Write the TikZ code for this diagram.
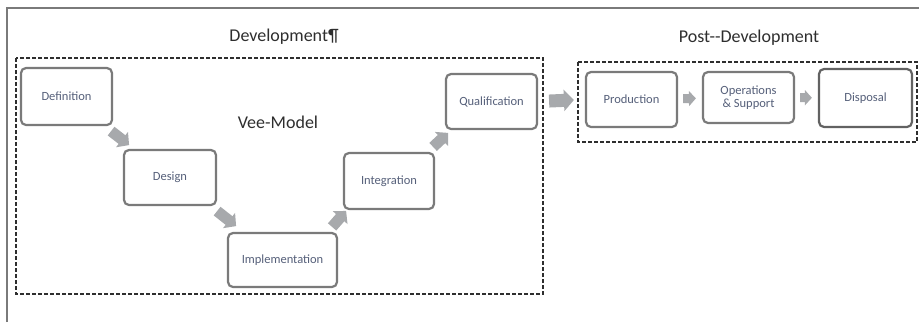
\documentclass[tikz,border=0pt]{standalone}
\usepackage{fontspec}
\setmainfont{Carlito}
\usetikzlibrary{arrows.meta}
\definecolor{boxgray}{HTML}{7A7A7A}
\definecolor{txtblue}{HTML}{56607A}
\definecolor{arrgray}{HTML}{A7A9AC}
\definecolor{dashgray}{HTML}{2E2E2E}
\begin{document}
\begin{tikzpicture}[x=1pt,y=-1pt,
  stage/.style={draw=boxgray,line width=2.2pt,rounded corners=5pt,fill=white,
    text=txtblue,font=\fontsize{12.5}{13}\selectfont,align=center,inner sep=0pt},
  group/.style={draw=dashgray,line width=2.6pt,dash pattern=on 4pt off 2pt},
  head/.style={text=dashgray,font=\fontsize{18}{20}\selectfont},
  blk/.style={draw=arrgray,line width=11pt,-{Triangle[length=9pt,width=19pt]}},
  blkbig/.style={draw=arrgray,line width=13pt,-{Triangle[length=10pt,width=21pt]},shorten <=11pt,shorten >=11pt},
  blksmall/.style={draw=arrgray,line width=9pt,-{Triangle[length=7pt,width=15pt]},shorten <=5pt,shorten >=6pt}]
\useasboundingbox (0,0) rectangle (919,322);
% frame
\draw[boxgray,line width=2pt] (7,322) -- (7,8) -- (919,8);
% groups
\draw[group] (16,58) rectangle (543,294);
\draw[group] (578,62) rectangle (917,142);
\node[head] (dev) at (284,37) {Development¶};
\node[head] (post) at (749,38) {Post-{}-Development};
\node[head] (vee) at (278,122) {Vee-Model};
% vee stages
\node[stage,minimum width=91pt,minimum height=57pt] (def) at (66.5,96.5) {Definition};
\node[stage,minimum width=92pt,minimum height=55pt] (des) at (170,177.5) {Design};
\node[stage,minimum width=109pt,minimum height=54pt] (imp) at (282.5,260) {Implementation};
\node[stage,minimum width=90pt,minimum height=56pt] (int) at (389,181) {Integration};
\node[stage,minimum width=91pt,minimum height=55pt] (qua) at (491.5,101.5) {Qualification};
% post stages
\node[stage,minimum width=91pt,minimum height=55pt] (pro) at (631.5,99.5) {Production};
\node[stage,minimum width=91pt,minimum height=51pt] (ops) at (748.5,97.5) {Operations\\\& Support};
\node[stage,minimum width=93pt,minimum height=58pt,draw=boxgray!80!black] (dis) at (865.5,98) {Disposal};
% arrows
\draw[blk] (def.south east) ++(-2,5) -- ++(18,14);
\draw[blk] (des.south east) ++(0,5) -- ++(19,15);
\draw[blk] (imp.north east) ++(-6,-5) -- ++(14,-16);
\draw[blk] (int.north east) ++(-2,-5) -- ++(15,-14);
\draw[blkbig] (qua.east) -- (pro.west);
\draw[blksmall] (pro) -- (ops);
\draw[blksmall] (ops) -- (dis);
\end{tikzpicture}
\end{document}
